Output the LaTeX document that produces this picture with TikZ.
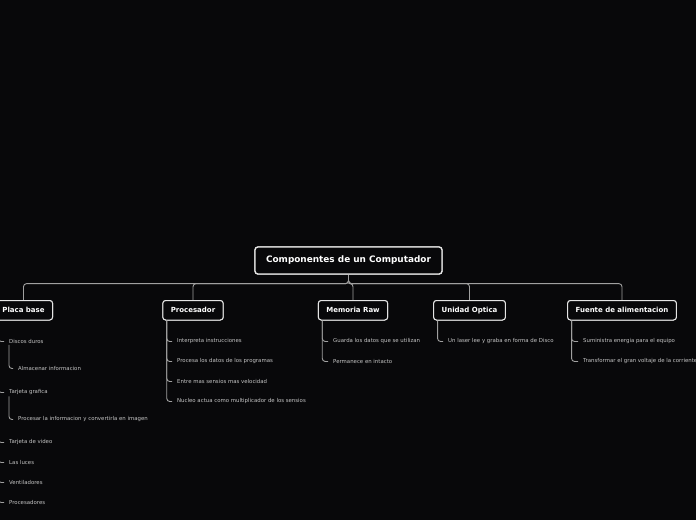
\documentclass[tikz,border=0pt]{standalone}
\usepackage{fontspec}
\setmainfont{DejaVu Sans}
\usepackage{tikz}
\usetikzlibrary{positioning}

\definecolor{fondo}{HTML}{08080A}
\definecolor{linea}{HTML}{A0A0A0}
\definecolor{borde}{HTML}{E4E4E4}
\definecolor{hoja}{HTML}{C4C4C4}

\tikzset{
  raiz/.style={draw=borde, line width=1.3pt, rounded corners=3pt, fill=fondo, text=white,
    font=\fontsize{8.9}{10}\selectfont\bfseries, minimum width=187pt, minimum height=27pt},
  rama/.style={draw=borde, line width=1pt, rounded corners=3pt, fill=fondo, text=white,
    font=\fontsize{7}{8}\selectfont\bfseries, inner xsep=8pt, minimum height=19.5pt},
  hojita/.style={anchor=west, text=hoja, inner xsep=5pt, inner ysep=1pt,
    font=\fontsize{5.4}{6}\selectfont},
  enlace/.style={draw=linea, line width=0.9pt, rounded corners=3pt}
}

\begin{document}
\begin{tikzpicture}[x=1pt, y=-1pt]
		% Background
		\fill[fondo] (0,0) rectangle (696,520);
		\useasboundingbox (0,0) rectangle (696,520);
		% Root and main branches
		\node[raiz] (root) at (348.5,260.5) {Componentes de un Computador};
		\node[rama] (placa) at (23.5,310.25) {Placa base};
		\node[rama] (proc) at (193,310.25) {Procesador};
		\node[rama] (mem) at (353,310.25) {Memoria Raw};
		\node[rama] (opt) at (469.5,310.25) {Unidad Optica};
		\node[rama] (fuente) at (622,310.25) {Fuente de alimentacion};
		\foreach \b in {placa,proc,mem,opt,fuente}
			\draw[enlace] (root.south) -- ++(0,9) -| (\b.north);
		% Redraw boxes over the links
		\node[raiz] at (root) {Componentes de un Computador};
		\node[rama] at (placa) {Placa base};
		\node[rama] at (proc) {Procesador};
		\node[rama] at (mem) {Memoria Raw};
		\node[rama] at (opt) {Unidad Optica};
		\node[rama] at (fuente) {Fuente de alimentacion};
		% Placa base
		\node[hojita] (discos) at (4,341.5) {Discos duros};
		\node[hojita] (almac) at (13,368.5) {Almacenar informacion};
		\node[hojita] (tgraf) at (4,392.5) {Tarjeta grafica};
		\node[hojita] (proci) at (13,419.5) {Procesar la informacion y convertirla en imagen};
		\node[hojita] (tvid) at (4,442.5) {Tarjeta de video};
		\node[hojita] (luces) at (4,462.5) {Las luces};
		\node[hojita] (vent) at (4,482.5) {Ventiladores};
		\node[hojita] (procs) at (4,502.5) {Procesadores};
		\foreach \h in {discos,tgraf,tvid,luces,vent,procs}
			\draw[enlace] ([xshift=4.5pt]placa.south west) |- (\h.west);
		\draw[enlace] ([xshift=5pt]discos.south west) |- (almac.west);
		\draw[enlace] ([xshift=5pt]tgraf.south west) |- (proci.west);
		% Procesador
		\node[hojita] (p1) at (172,341.5) {Interpreta instrucciones};
		\node[hojita] (p2) at (172,361.5) {Procesa los datos de los programas};
		\node[hojita] (p3) at (172,381.5) {Entre mas sensios mas velocidad};
		\node[hojita] (p4) at (172,401.5) {Nucleo actua como multiplicador de los sensios};
		\foreach \h in {p1,p2,p3,p4}
			\draw[enlace] ([xshift=4.5pt]proc.south west) |- (\h.west);
		% Memoria Raw
		\node[hojita] (m1) at (328,341.5) {Guarda los datos que se utilizan};
		\node[hojita] (m2) at (328,361.5) {Permanece en intacto};
		\foreach \h in {m1,m2}
			\draw[enlace] ([xshift=4.5pt]mem.south west) |- (\h.west);
		% Unidad Optica
		\node[hojita] (o1) at (443,341.5) {Un laser lee y graba en forma de Disco};
		\draw[enlace] ([xshift=4.5pt]opt.south west) |- (o1.west);
		% Fuente de alimentacion
		\node[hojita] (f1) at (578,341.5) {Suministra energia para el equipo};
		\node[hojita] (f2) at (578,361.5) {Transformar el gran voltaje de la corriente};
		\foreach \h in {f1,f2}
			\draw[enlace] ([xshift=4.5pt]fuente.south west) |- (\h.west);
	\end{tikzpicture}
\end{document}
